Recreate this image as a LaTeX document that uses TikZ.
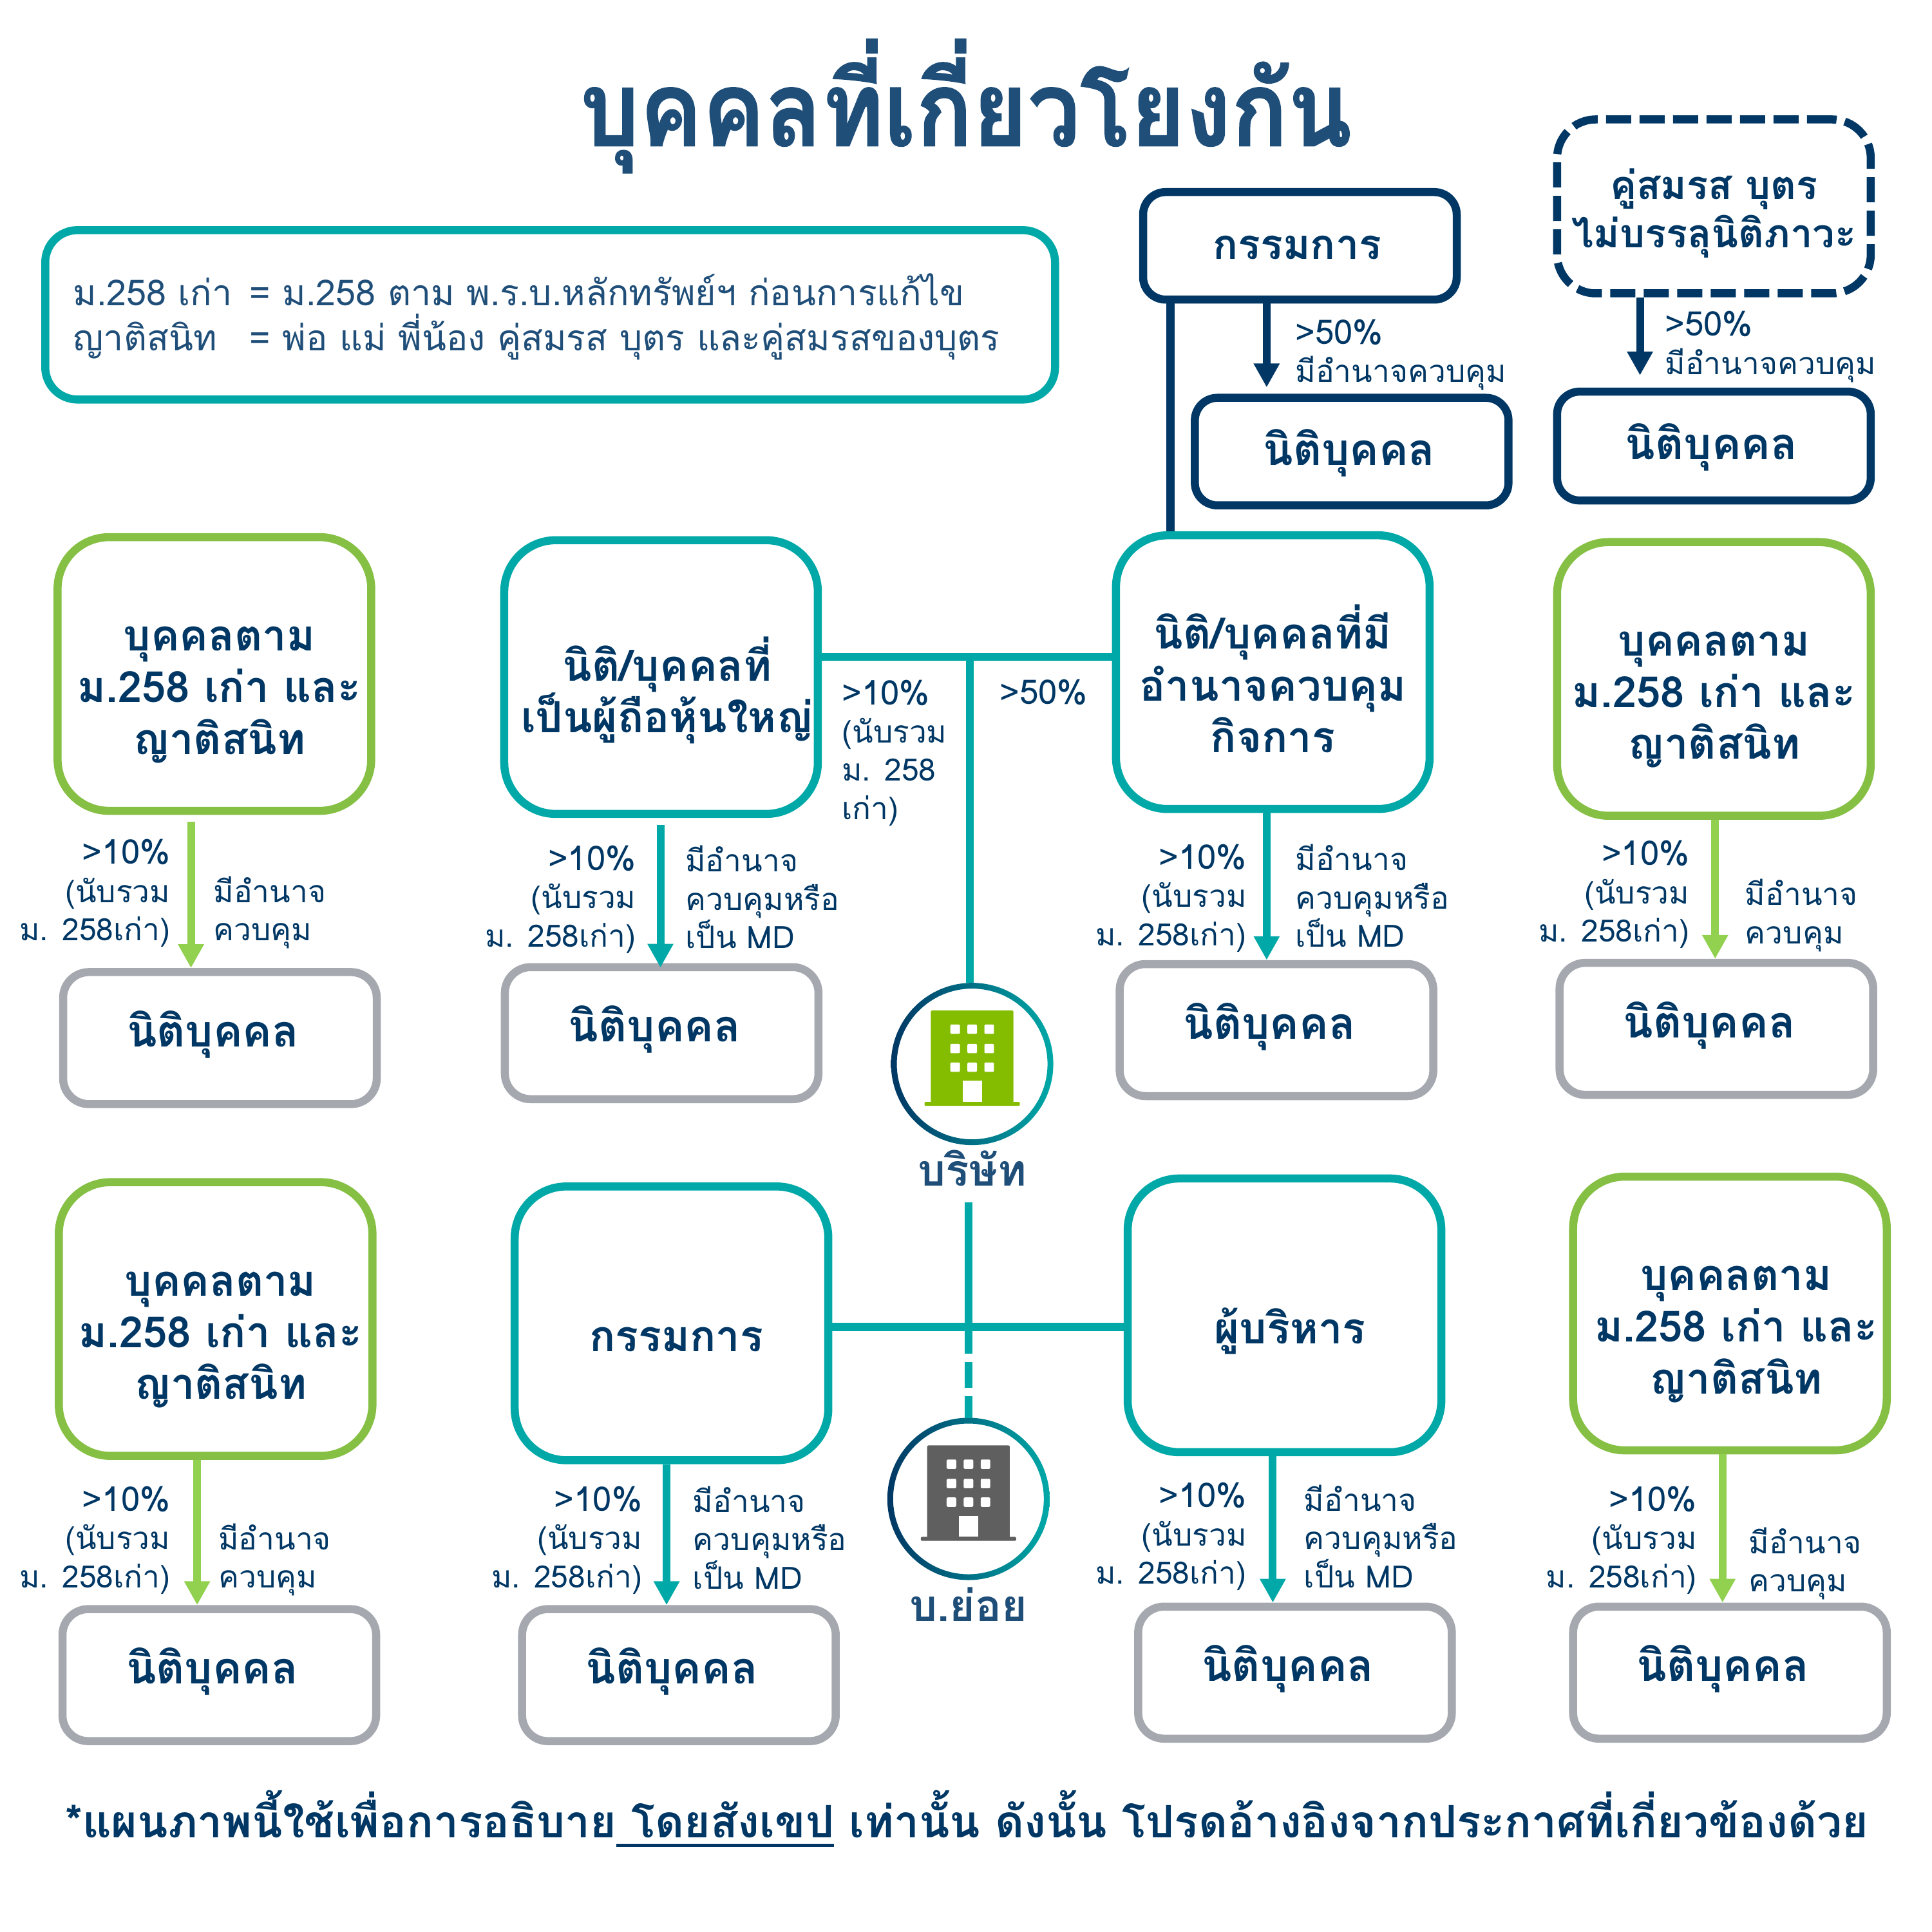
\documentclass[tikz,border=0pt]{standalone}
\usepackage{fontspec}
\setmainfont[Script=Thai]{Loma}
\newfontfamily\titlefont[Script=Thai,BoldFeatures={FakeStretch=0.9,FakeBold=1}]{Loma}
\newcommand{\pctfont}{\fontsize{15}{16.9}\selectfont}
\newsavebox{\ulbox}
\newcommand{\heavyul}[1]{\sbox{\ulbox}{#1}\rlap{\rule[-1.5mm]{\wd\ulbox}{0.5mm}}\usebox{\ulbox}}
\usepackage{xcolor}
\usetikzlibrary{arrows.meta, positioning, calc, shadings}

\definecolor{navyink}{HTML}{003764}
\definecolor{titleink}{HTML}{1F4E79}
\definecolor{tealline}{HTML}{00A9A7}
\definecolor{grassline}{HTML}{85BF43}
\definecolor{grasstip}{HTML}{92D050}
\definecolor{greyline}{HTML}{A5A8AF}
\definecolor{bldgreen}{HTML}{84BD00}
\definecolor{bldgrey}{HTML}{5F5F5F}

\begin{document}
\begin{tikzpicture}[
  x=0.19133mm, y=-0.19133mm,
  party/.style = {draw=#1, fill=white, line width=1.25mm, inner sep=0pt,
                  rounded corners=8mm, minimum width=48.7mm, minimum height=42.5mm,
                  font=\fontsize{19}{22.8}\selectfont\bfseries, align=center,
                  text=navyink},
  legal/.style = {draw=#1, fill=white, line width=1.25mm, inner sep=0pt,
                  rounded corners=4mm, minimum width=48.7mm, minimum height=20.5mm,
                  font=\fontsize{19.4}{22.8}\selectfont\bfseries, align=center,
                  text=navyink},
  oneline/.style    = {text height=2.7mm, text depth=0mm},
  toponeline/.style = {text height=4.2mm, text depth=0mm},
  bigoneline/.style = {text height=8.8mm, text depth=0mm},
  twolines/.style   = {text height=17.2mm, text depth=0mm},
  threelines/.style = {text height=24.9mm, text depth=0mm},
  link/.style  = {draw=#1, line width=1.2mm,
                  -{Triangle[length=3.7mm,width=3.8mm]}},
  trunk/.style = {draw=tealline, line width=1.25mm},
  pct/.style   = {font=\fontsize{13.6}{16.9}\selectfont, text=navyink,
                  inner sep=0pt, align=right, anchor=east},
  ctl/.style   = {font=\fontsize{13.6}{16.9}\selectfont, text=navyink,
                  inner sep=0pt, align=left, anchor=west},
  hub/.style   = {circle, minimum size=25.2mm, inner sep=0pt, outer sep=0pt},
  hubtext/.style = {font=\fontsize{19.3}{20}\selectfont\bfseries, text=titleink,
                  inner sep=0pt},
]
\useasboundingbox (0,0) rectangle (1568,1568);

%% title and note
\node[font=\titlefont\fontsize{46}{50}\selectfont\bfseries, text=titleink, inner sep=0pt]
  (title) at (784, 86) {บุคคลที่เกี่ยวโยงกัน};
\node[draw=tealline, fill=white, line width=1.25mm, rounded corners=5mm,
      minimum width=156.8mm, minimum height=26.3mm, inner sep=0pt] (note) at (446.5, 255.5) {};
\node[inner sep=0pt, anchor=west, align=left, text=titleink,
      font=\fontsize{15.8}{20}\selectfont] (notetext) at (59, 257)
  {\makebox[27.4mm][l]{ม.258 เก่า}= ม.258 ตาม พ.ร.บ.หลักทรัพย์ฯ ก่อนการแก้ไข\\
   \makebox[27.4mm][l]{ญาติสนิท}= พ่อ แม่ พี่น้อง คู่สมรส บุตร และคู่สมรสของบุตร};

%% top right holders
\node[legal=navyink, toponeline, minimum height=16.7mm, rounded corners=3.5mm,
      font=\fontsize{18.4}{22.8}\selectfont\bfseries] (boardtop) at (1055, 199.5) {กรรมการ\hspace{0.8mm}};
\node[legal=navyink, toponeline, minimum height=16.7mm, rounded corners=3.5mm] (firmtop) at (1097, 366.5) {นิติบุคคล\hspace{0.8mm}};
\node[legal=navyink, text height=12.8mm, text depth=0mm, minimum height=27mm, rounded corners=6mm,
      font=\fontsize{17.5}{21.2}\selectfont\bfseries,
      dash pattern=on 3.9mm off 1.3mm] (kin) at (1391, 167.5) {คู่สมรส บุตร\\ไม่บรรลุนิติภาวะ};
\node[legal=navyink, toponeline, minimum height=16.9mm, rounded corners=3.5mm] (kinfirm) at (1391, 362) {นิติบุคคล\hspace{0.8mm}};

%% holders, upper and lower rows
\foreach \nm/\x/\y/\n in {grpa/174/547/1.5mm, grpb/1391/551/0mm, grpc/175/1070.5/1.5mm, grpd/1404/1066/1.9mm}{
  \node[party=grassline, threelines] (\nm) at (\x, \y)
    {\hspace*{\n}บุคคลตาม\\\hspace*{\n}ม.258 เก่า และ\\\hspace*{\n}ญาติสนิท};
}
\node[party=tealline, twolines] (major) at (536.5, 549.5) {\hspace*{1.9mm}นิติ/บุคคลที่\\\hspace*{1.9mm}เป็นผู้ถือหุ้นใหญ่};
\node[party=tealline, threelines] (ctrl) at (1033, 545.5) {นิติ/บุคคลที่มี\\อำนาจควบคุม\\กิจการ};
\node[party=tealline, bigoneline] (board) at (545, 1074) {กรรมการ\hspace{-1.5mm}};
\node[party=tealline, bigoneline] (exec) at (1042.5, 1067.5) {\hspace*{1.7mm}ผู้บริหาร};

%% juristic persons
\foreach \nm/\x/\y in {fa/178.5/842.5, fb/537/838.5, fc/1036/836, fd/1393/835,
                       fe/178/1359.5, ff/551/1359.5, fg/1051/1357.5, fh/1404/1357.5}{
  \node[legal=greyline, oneline] (\nm) at (\x, \y) {นิติบุคคล\hspace{2.2mm}};
}

%% arrows holder to juristic person
\foreach \a/\b/\x/\col/\gap/\stop in {grpa/fa/155/grasstip/1.1mm/0mm, major/fb/536/tealline/1.1mm/-0.7mm,
    ctrl/fc/1028/tealline/0mm/0mm, grpb/fd/1392/grasstip/0mm/0mm, grpc/fe/160/grasstip/0mm/0mm,
    board/ff/541/tealline/0mm/0mm, exec/fg/1033/tealline/0mm/0mm, grpd/fh/1398/grasstip/0mm/0mm,
    boardtop/firmtop/1028/navyink/0mm/1mm, kin/kinfirm/1331/navyink/0mm/1.9mm}{
  \draw[link=\col, shorten <=\gap, shorten >=\stop] (\x,0 |- \a.south) -- (\x,0 |- \b.north);
}
\draw[draw=navyink, line width=1.25mm] (950,0 |- boardtop.south) -- (950,0 |- ctrl.north);

%% labels beside the arrows
\foreach \nm/\x/\y in {pa/138.5/725, pb/516.5/730, pc/1012/729, pd/1371.5/726,
                       pe/138.5/1250, pf/521.5/1250, pg/1012/1247, ph/1377.5/1250}{
  \node[pct] (\nm) at (\x, \y) {{\pctfont >10\%}\\(นับรวม\\ม. 258เก่า)};
}
\foreach \nm/\x/\y in {ca/173/740.5, cb/1416/743, cc/177/1266, cd/1419/1269}{
  \node[ctl] (\nm) at (\x, \y) {มีอำนาจ\\ควบคุม};
}
\foreach \nm/\x/\y in {ce/556/728, cf/1051/727, cg/562/1248, ch/1058/1247}{
  \node[ctl] (\nm) at (\x, \y) {มีอำนาจ\\ควบคุมหรือ\\เป็น MD};
}
\node[ctl] (toppct) at (1051, 288) {{\pctfont >50\%}\\มีอำนาจควบคุม};
\node[ctl] (kinpct) at (1351, 281.5) {{\pctfont >50\%}\\มีอำนาจควบคุม};
\node[ctl] (majorpct) at (683, 611) {{\pctfont >10\%}\\(นับรวม\\ม. 258\\เก่า)};
\node[font=\pctfont, text=navyink, inner sep=0pt] (ctrlpct) at (847, 562) {>50\%};

%% company and subsidiary
\foreach \nm/\cx/\cy/\col in {co/789/863.5/bldgreen, sub/786/1216.5/bldgrey}{
  \node[hub] (\nm) at (\cx, \cy) {};
  \shade[left color=navyink, right color=tealline, even odd rule]
    (\nm.center) circle[radius=12.6mm] (\nm.center) circle[radius=11.7mm];
  \fill[\col, rounded corners=0.2mm] (\cx-33.5, \cy-43.4) rectangle (\cx+33.5, \cy+32);
  \fill[\col, rounded corners=0.2mm] (\cx-38.7, \cy+30.8) rectangle (\cx+38.7, \cy+34);
  \foreach \dx in {-13.8, 0, 13.8}{
    \foreach \dy in {-28.2, -12.5, 2.6}{
      \fill[white, rounded corners=0.2mm] (\cx+\dx-3.9, \cy+\dy-3.8) rectangle (\cx+\dx+3.9, \cy+\dy+3.8);
    }
  }
  \fill[white] (\cx-7.8, \cy+13.6) rectangle (\cx+7.8, \cy+30.8);
}
\node[hubtext] (colabel) at (789, 948) {บริษัท};
\node[hubtext] (sublabel) at (786, 1302) {บ.ย่อย};

%% shareholding lines
\coordinate (upjoin) at (787, 533);
\coordinate (lowjoin) at (786, 1077);
\coordinate (cut) at (786, 976);
\draw[trunk] (major.east |- upjoin) -- (ctrl.west |- upjoin);
\draw[trunk] (upjoin) -- (upjoin |- co.north);
\draw[trunk] (board.east |- lowjoin) -- (exec.west |- lowjoin);
\draw[trunk, dash pattern=on 23.5mm off 1.3mm on 4mm off 1.3mm on 4mm off 10mm]
  (cut) -- (cut |- sub.north);

%% footnote
\node[font=\fontsize{19.75}{22}\selectfont\bfseries, text=navyink, inner sep=0pt]
  (foot) at (784.5, 1476) {*แผนภาพนี้ใช้เพื่อการอธิบาย\heavyul{\ โดยสังเขป} เท่านั้น ดังนั้น โปรดอ้างอิงจากประกาศที่เกี่ยวข้องด้วย};

\end{tikzpicture}
\end{document}
